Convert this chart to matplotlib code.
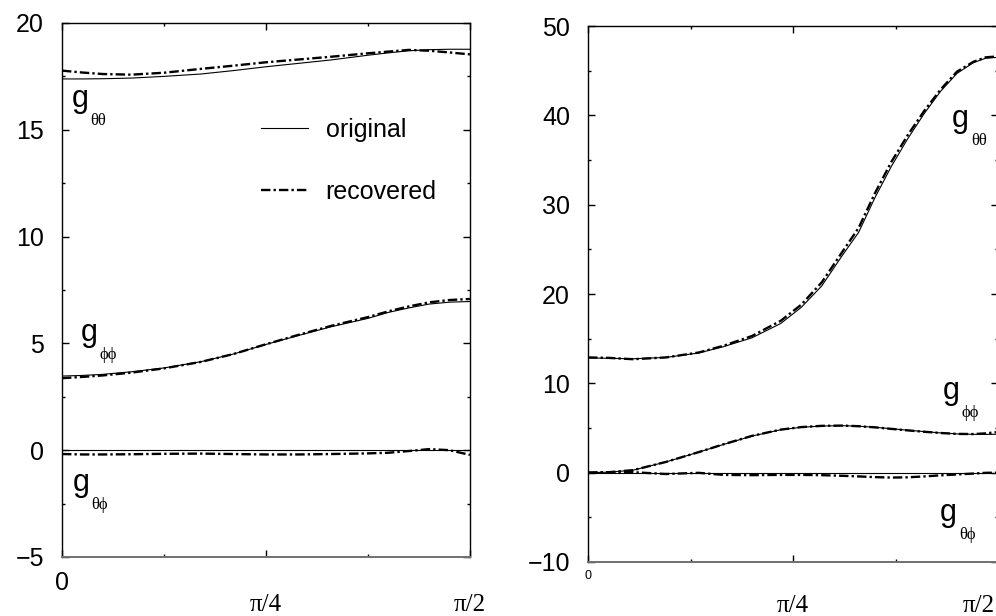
import matplotlib.pyplot as plt
import numpy as np
from matplotlib.ticker import MultipleLocator

plt.rcParams['font.family'] = ['Liberation Sans', 'DejaVu Sans']

# x positions, as fractions of pi/2
left_x = [0, 0.05, 0.1, 0.17, 0.25, 0.34, 0.42, 0.5, 0.58, 0.66, 0.75, 0.8, 0.85, 0.9, 0.95, 1.0]
# left panel: original / recovered metric components
left_tt_orig = [17.38, 17.38, 17.39, 17.42, 17.50, 17.61, 17.77, 17.95, 18.11, 18.27, 18.49, 18.60, 18.70, 18.75, 18.77, 18.77]
left_tt_rec = [17.77, 17.68, 17.61, 17.58, 17.67, 17.85, 18.00, 18.16, 18.29, 18.42, 18.58, 18.66, 18.74, 18.70, 18.62, 18.53]
left_pp_orig = [3.47, 3.50, 3.55, 3.67, 3.85, 4.14, 4.50, 4.95, 5.37, 5.78, 6.17, 6.45, 6.66, 6.84, 6.93, 6.96]
left_pp_rec = [3.37, 3.43, 3.50, 3.63, 3.83, 4.13, 4.50, 4.96, 5.40, 5.82, 6.23, 6.50, 6.73, 6.92, 7.03, 7.08]
left_tp_orig = [0.03, 0.03, 0.03, 0.03, 0.03, 0.03, 0.03, 0.03, 0.03, 0.03, 0.03, 0.03, 0.03, 0.03, 0.03, 0.03]
left_tp_rec = [-0.18, -0.20, -0.20, -0.19, -0.17, -0.16, -0.18, -0.20, -0.20, -0.18, -0.15, -0.12, -0.04, 0.05, 0.0, -0.22]

right_x = [0, 0.05, 0.11, 0.19, 0.27, 0.33, 0.40, 0.47, 0.52, 0.57, 0.62, 0.66, 0.70, 0.74, 0.78, 0.82, 0.86, 0.90, 0.94, 0.97, 1.0]
# right panel
right_tt_orig = [12.85, 12.8, 12.75, 12.9, 13.4, 14.1, 15.1, 16.7, 18.5, 20.9, 24.3, 26.9, 30.8, 34.3, 37.4, 40.2, 42.7, 44.7, 45.9, 46.4, 46.5]
right_tt_rec = [12.9, 12.85, 12.7, 12.9, 13.45, 14.2, 15.3, 17.0, 18.8, 21.3, 24.7, 27.4, 31.3, 34.8, 37.8, 40.5, 42.9, 44.9, 46.0, 46.5, 46.6]
right_pp_orig = [0.0, 0.05, 0.28, 1.2, 2.3, 3.15, 4.1, 4.8, 5.08, 5.22, 5.26, 5.2, 5.08, 4.92, 4.75, 4.6, 4.45, 4.34, 4.29, 4.28, 4.3]
right_pp_rec = [0.0, 0.05, 0.28, 1.2, 2.3, 3.17, 4.12, 4.82, 5.1, 5.24, 5.27, 5.2, 5.07, 4.9, 4.73, 4.58, 4.44, 4.34, 4.32, 4.4, 4.55]
right_tp_orig = [0.0, 0.0, 0.0, 0.0, 0.0, 0.0, 0.0, 0.0, 0.0, 0.0, 0.0, 0.0, 0.0, 0.0, 0.0, 0.0, 0.0, 0.0, 0.0, 0.0, 0.0]
right_tp_rec = [0.0, 0.05, 0.05, -0.15, -0.02, -0.25, -0.28, -0.25, -0.25, -0.28, -0.35, -0.42, -0.5, -0.55, -0.52, -0.42, -0.3, -0.2, -0.1, -0.02, 0.0]

solid = dict(color='black', lw=0.8)
dashdot = dict(color='black', lw=1.7, linestyle=(0, (4, 1.3, 1, 1.3)))
serif = ['Liberation Serif', 'DejaVu Serif']


def glabel(ax, x, y, sub):
    ax.text(x, y, 'g', fontsize=22, va='baseline', ha='left')
    ax.annotate(sub, (x, y), xytext=(13.5, -13), textcoords='offset points',
                fontsize=12, family=serif, va='baseline', ha='left')


def pi_label(ax, text, xpos, dy, dx=0, ha='center'):
    ax.annotate(text, (xpos, 0), xycoords=('data', 'axes fraction'),
                xytext=(dx, dy), textcoords='offset points', ha=ha, va='top',
                fontsize=18, family=serif)


def style_axes(ax, ymin, ymax, ymaj, ymin_step):
    ax.set_xlim(0, np.pi / 2)
    ax.set_ylim(ymin, ymax)
    ax.set_xticks([0, np.pi / 4, np.pi / 2], ['0', '', ''])
    ax.set_xticks([np.pi / 8, 3 * np.pi / 8], minor=True)
    ax.yaxis.set_major_locator(MultipleLocator(ymaj))
    ax.yaxis.set_minor_locator(MultipleLocator(ymin_step))
    ax.tick_params(which='both', direction='in', top=True, right=True, width=1)
    ax.tick_params(which='major', length=5, labelsize=18)
    ax.tick_params(which='minor', length=2.5)
    ax.tick_params(axis='y', pad=13)
    ax.spines['bottom'].set_color('#707070')
    ax.spines['bottom'].set_linewidth(1.4)
    for sp in ['left', 'top', 'right']:
        ax.spines[sp].set_linewidth(1.0)


fig = plt.figure(figsize=(9.96, 6.16), dpi=100)
ax1 = fig.add_axes([0.0622, 0.0958, 0.4096, 0.8669])
ax2 = fig.add_axes([0.5904, 0.0877, 0.4116, 0.870])

# left panel
xl = np.array(left_x) * np.pi / 2
ax1.plot(xl, left_tt_orig, label='original', **solid)
ax1.plot(xl, left_tt_rec, label='recovered', **dashdot)
ax1.plot(xl, left_pp_orig, **solid)
ax1.plot(xl, left_pp_rec, **dashdot)
ax1.plot(xl, left_tp_orig, **solid)
ax1.plot(xl, left_tp_rec, **dashdot)
style_axes(ax1, -5, 20, 5, 2.5)
ax1.tick_params(axis='x', pad=10)
pi_label(ax1, '\u03c0/4', np.pi / 4, -27)
pi_label(ax1, '\u03c0/2', np.pi / 2, -27)
glabel(ax1, 0.0385, 16.07, '\u03b8\u03b8')
glabel(ax1, 0.073, 5.11, '\u03d5\u03d5')
glabel(ax1, 0.042, -1.91, '\u03b8\u03d5')
ax1.legend(frameon=False, loc='upper left', bbox_to_anchor=(0.487, 0.822),
           fontsize=18, handlelength=1.9, handletextpad=0.7, labelspacing=1.5,
           borderaxespad=0, borderpad=0)

# right panel
xr = np.array(right_x) * np.pi / 2
ax2.plot(xr, right_tt_orig, **solid)
ax2.plot(xr, right_tt_rec, **dashdot)
ax2.plot(xr, right_pp_orig, **solid)
ax2.plot(xr, right_pp_rec, **dashdot)
ax2.plot(xr, right_tp_orig, **solid)
ax2.plot(xr, right_tp_rec, **dashdot)
style_axes(ax2, -10, 50, 10, 5)
ax2.tick_params(axis='x', labelsize=9, pad=6)
pi_label(ax2, '\u03c0/4', np.pi / 4, -23.5)
pi_label(ax2, '\u03c0/2', np.pi / 2, -23.5, dx=-2, ha='right')
glabel(ax2, 1.395, 38.7, '\u03b8\u03b8')
glabel(ax2, 1.360, 8.25, '\u03d5\u03d5')
glabel(ax2, 1.349, -5.41, '\u03b8\u03d5')

fig.savefig('out.png', dpi=100)
